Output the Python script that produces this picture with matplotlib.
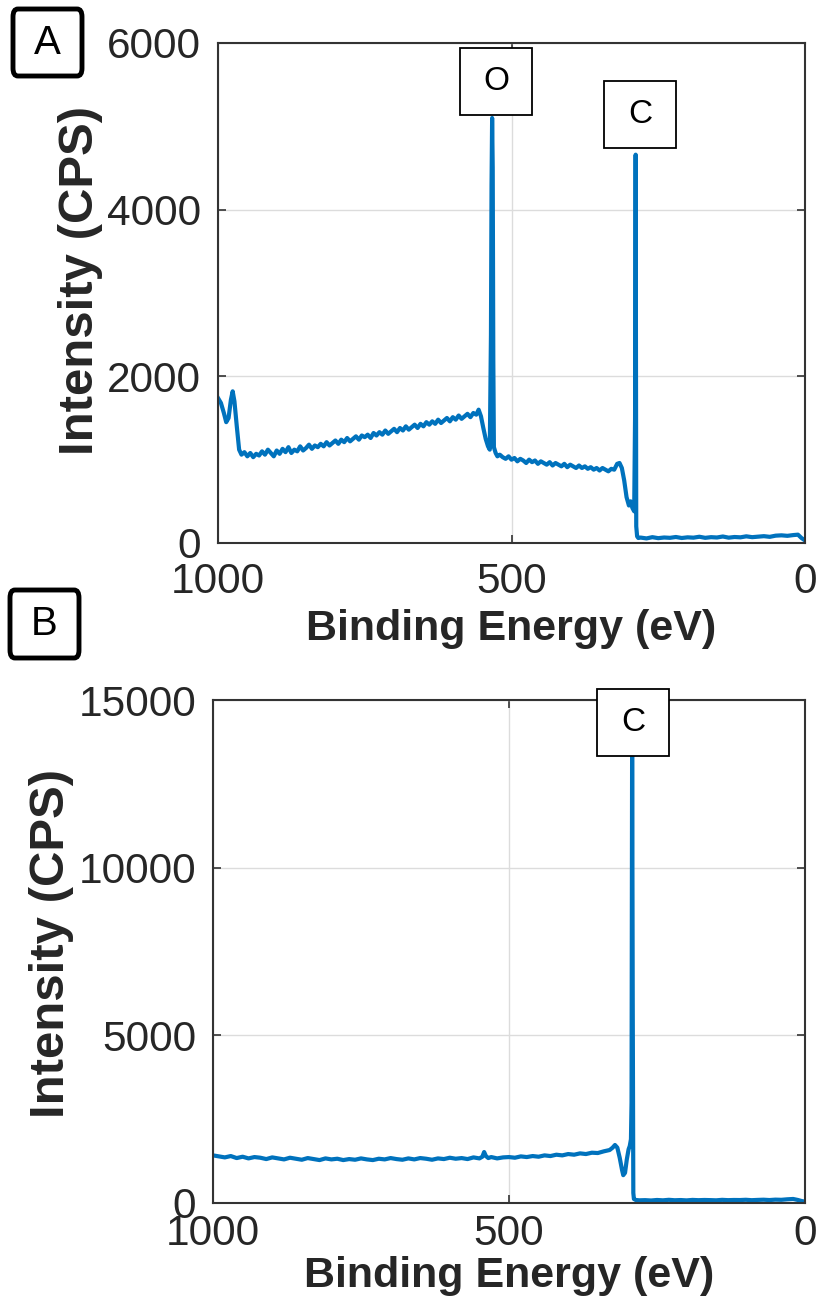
import matplotlib
matplotlib.use('Agg')
import matplotlib.pyplot as plt
from matplotlib.patches import Rectangle, FancyBboxPatch

# survey spectrum A (binding energy eV, counts per second)
energy_a = [1000, 995, 990, 986, 982, 978, 975, 972, 968, 964,
            960, 955, 950, 945, 940, 935, 930, 925, 920, 915,
            910, 905, 900, 895, 890, 885, 880, 875, 870, 865,
            860, 855, 850, 845, 840, 835, 830, 825, 820, 815,
            810, 805, 800, 795, 790, 785, 780, 775, 770, 765,
            760, 755, 750, 745, 740, 735, 730, 725, 720, 715,
            710, 705, 700, 695, 690, 685, 680, 675, 670, 665,
            660, 655, 650, 645, 640, 635, 630, 625, 620, 615,
            610, 605, 600, 595, 590, 585, 580, 575, 570, 565,
            560, 556, 552, 548, 544, 540, 537, 535, 534, 533,
            532, 531, 530, 527, 524, 520, 515, 510, 505, 500,
            495, 490, 485, 480, 475, 470, 465, 460, 455, 450,
            445, 440, 435, 430, 425, 420, 415, 410, 405, 400,
            395, 390, 385, 380, 375, 370, 365, 360, 355, 350,
            345, 340, 335, 330, 325, 320, 316, 312, 308, 304,
            300, 297, 294, 291, 289.5, 288.5, 287.5, 286, 284, 280,
            270, 260, 250, 240, 230, 220, 210, 200, 190, 180,
            170, 160, 150, 140, 130, 120, 110, 100, 90, 80,
            70, 60, 50, 40, 30, 20, 12, 6, 0]
counts_a = [1740, 1680, 1560, 1450, 1500, 1720, 1820, 1700, 1400, 1120,
            1060, 1090, 1040, 1080, 1030, 1070, 1050, 1100, 1060, 1120,
            1080, 1040, 1110, 1070, 1130, 1090, 1150, 1080, 1120, 1100,
            1160, 1110, 1140, 1180, 1130, 1170, 1150, 1190, 1160, 1210,
            1170, 1200, 1230, 1190, 1240, 1210, 1260, 1220, 1250, 1280,
            1240, 1290, 1270, 1300, 1260, 1320, 1290, 1330, 1300, 1350,
            1310, 1340, 1370, 1330, 1380, 1350, 1400, 1360, 1390, 1420,
            1380, 1430, 1400, 1450, 1420, 1460, 1430, 1480, 1440, 1470,
            1500, 1460, 1510, 1480, 1530, 1490, 1520, 1550, 1510, 1560,
            1540, 1600, 1520, 1380, 1250, 1160, 1120, 2500, 4300, 5100,
            4500, 2200, 1150, 1080, 1040, 1060, 1030, 1010, 1040, 1000,
            1020, 980, 1010, 990, 960, 1000, 970, 990, 950, 980,
            960, 940, 970, 930, 960, 940, 920, 950, 910, 940,
            920, 900, 930, 900, 920, 890, 910, 880, 900, 870,
            900, 880, 860, 890, 880, 950, 960, 900, 750, 550,
            450, 500, 420, 380, 1500, 4660, 200, 80, 60, 65,
            55, 70, 58, 66, 62, 72, 60, 68, 64, 75,
            62, 70, 66, 78, 64, 72, 68, 80, 70, 76,
            82, 74, 88, 92, 86, 95, 100, 60, 30]

# survey spectrum B
energy_b = [1000, 990, 980, 970, 960, 950, 940, 930, 920, 910,
            900, 890, 880, 870, 860, 850, 840, 830, 820, 810,
            800, 790, 780, 770, 760, 750, 740, 730, 720, 710,
            700, 690, 680, 670, 660, 650, 640, 630, 620, 610,
            600, 590, 580, 570, 560, 550, 545, 542, 539, 535,
            530, 520, 510, 500, 490, 480, 470, 460, 450, 440,
            430, 420, 410, 400, 390, 380, 370, 360, 350, 340,
            330, 325, 321, 317, 313, 309, 307, 304, 301, 298,
            296, 294, 293, 292, 291, 290, 289, 286, 280, 270,
            260, 250, 240, 230, 220, 210, 200, 190, 180, 170,
            160, 150, 140, 130, 120, 110, 100, 90, 80, 70,
            60, 50, 40, 30, 20, 12, 6, 0]
counts_b = [1420, 1390, 1360, 1400, 1340, 1380, 1330, 1370, 1350, 1310,
            1360, 1330, 1300, 1350, 1320, 1290, 1340, 1310, 1280, 1330,
            1300, 1320, 1280, 1310, 1290, 1330, 1300, 1280, 1320, 1300,
            1340, 1310, 1290, 1330, 1300, 1340, 1320, 1290, 1330, 1310,
            1350, 1320, 1340, 1310, 1360, 1330, 1380, 1520, 1400, 1340,
            1370, 1330, 1360, 1370, 1350, 1390, 1370, 1400, 1380, 1420,
            1400, 1440, 1420, 1460, 1440, 1480, 1460, 1500, 1490, 1540,
            1580, 1650, 1730, 1650, 1350, 980, 830, 900, 1300, 1600,
            1700, 1900, 3000, 14000, 6000, 300, 120, 90, 80, 85,
            75, 90, 80, 95, 82, 88, 78, 92, 84, 90,
            86, 80, 94, 85, 90, 88, 96, 84, 92, 98,
            88, 100, 95, 110, 120, 90, 60, 40]

xticks = [0, 500, 1000]
yticks_a = [0, 2000, 4000, 6000]
yticks_b = [0, 5000, 10000, 15000]

W, H = 816, 1312
fig = plt.figure(figsize=(W / 100, H / 100), dpi=100)

blue = '#0072BD'
dark = '#262626'
font = ['Liberation Sans', 'DejaVu Sans']


def style_axes(ax, yticks, ymax, label_y, xpad, xlabelpad):
    ax.set_xlim(1000, 0)
    ax.set_ylim(0, ymax)
    ax.set_xticks(xticks)
    ax.set_yticks(yticks)
    ax.grid(True, color='#dcdcdc', lw=1.0)
    ax.set_axisbelow(True)
    for s in ax.spines.values():
        s.set_color('#333333')
        s.set_linewidth(1.5)
    ax.tick_params(direction='in', length=5.5, width=1.2, color='#333333',
                   top=True, right=True, labelcolor=dark)
    ax.tick_params(axis='x', pad=xpad)
    ax.tick_params(axis='y', pad=12)
    for lab in ax.get_xticklabels() + ax.get_yticklabels():
        lab.set_family(font)
        lab.set_fontsize(30.5)
    ax.set_xlabel('Binding Energy (eV)', family=font, fontsize=31,
                  fontweight='bold', color=dark, labelpad=xlabelpad)
    ax.set_ylabel('Intensity (CPS)', family=font, fontsize=35.4,
                  fontweight='bold', color=dark, labelpad=3)
    ax.yaxis.label.set_y(label_y)


ax1 = fig.add_axes([218 / W, 1 - 543 / H, 587 / W, 500 / H])
ax1.plot(energy_a, counts_a, color=blue, lw=3)
style_axes(ax1, yticks_a, 6000, 0.526, 14, 5)

ax2 = fig.add_axes([213 / W, 1 - 1203 / H, 592 / W, 503 / H])
ax2.plot(energy_b, counts_b, color=blue, lw=3)
style_axes(ax2, yticks_b, 15000, 0.516, 8, 1)


def peak_box(x0, y0, x1, y1, label):
    r = Rectangle((x0 / W, 1 - y1 / H), (x1 - x0) / W, (y1 - y0) / H,
                  transform=fig.transFigure, facecolor='white', edgecolor='black',
                  lw=1.3, zorder=10)
    fig.patches.append(r)
    fig.text((x0 + x1) / 2 / W, 1 - (y0 + y1) / 2 / H, label, ha='center', va='center',
             family=font, fontsize=24, color='black', zorder=11)


def panel_box(x0, y0, x1, y1, label):
    r = FancyBboxPatch((x0 / W, 1 - y1 / H), (x1 - x0) / W, (y1 - y0) / H,
                       boxstyle='round,pad=0,rounding_size=0.006',
                       transform=fig.transFigure, facecolor='white', edgecolor='black',
                       lw=3.5, zorder=10)
    fig.patches.append(r)
    fig.text((x0 + x1) / 2 / W, 1 - (y0 + y1) / 2 / H, label, ha='center', va='center',
             family=font, fontsize=29, color='black', zorder=11)


peak_box(460, 48, 532, 115, 'O')
peak_box(604, 81, 676, 148, 'C')
peak_box(597, 689, 669, 756, 'C')
panel_box(13, 9, 82, 76, 'A')
panel_box(10, 590, 79, 658, 'B')

fig.savefig('out.png', dpi=100)
